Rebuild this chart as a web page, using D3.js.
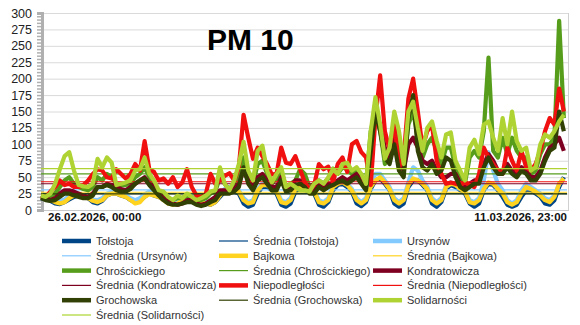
<!DOCTYPE html>
<html>
<head>
<meta charset="utf-8">
<script src="https://cdn.jsdelivr.net/npm/d3@7"></script>
<style>
  body { margin: 0; background: #fff; }
  svg { font-family: "Liberation Sans", Arial, sans-serif; }
</style>
</head>
<body>
<div id="chart"></div>
<script>
// stations and their colours
var stations = ["Tołstoja", "Ursynów", "Bajkowa", "Chrościckiego", "Kondratowicza", "Niepodległości", "Grochowska", "Solidarności"];
var colors = ["#004586", "#83caff", "#ffd320", "#579d1c", "#7e0021", "#f01010", "#314004", "#aed332"];

// averages
var averages = [25, 30.5, 27, 55, 40, 43, 24.5, 63];

var yTicks = [0, 25, 50, 75, 100, 125, 150, 175, 200, 225, 250, 275, 300];
var xTickLabels = ["26.02.2026, 00:00", "11.03.2026, 23:00"];

// hourly series sampled every 3 hours (8 values per day, 14 days)
var stepHours = 3;
var totalHours = 335;

var tolstoja = [
  18,16,14,10,9,12,16,20,
  22,20,18,12,10,14,22,25,
  25,22,20,15,12,14,20,25,
  22,20,16,12,10,12,18,22,
  20,18,15,10,8,12,20,28,
  30,28,25,10,5,8,25,35,
  35,30,25,8,5,10,28,32,
  30,28,25,8,5,12,30,38,
  40,35,28,10,6,12,32,45,
  48,40,30,10,5,10,35,45,
  45,38,30,10,5,12,32,38,
  35,30,25,10,5,10,30,40,
  38,30,20,8,5,8,20,30,
  30,25,20,10,8,15,35,50];

var ursynow = [
  22,20,18,15,14,16,22,25,
  25,22,20,16,15,18,25,28,
  28,25,22,18,15,18,24,28,
  25,22,18,14,12,14,18,24,
  22,18,15,12,12,15,25,32,
  35,32,30,18,12,15,32,40,
  40,35,30,15,12,18,35,38,
  35,32,30,15,12,18,38,45,
  45,40,32,18,12,18,40,55,
  55,45,35,18,12,18,42,65,
  60,45,35,18,12,18,38,42,
  40,35,30,15,12,18,45,88,
  60,40,30,15,10,15,30,40,
  35,30,25,18,15,22,40,48];

var bajkowa = [
  20,18,15,12,10,12,18,22,
  22,20,18,14,12,15,22,25,
  25,22,20,15,10,12,20,24,
  22,20,15,10,8,10,15,20,
  18,15,12,10,8,12,22,30,
  32,30,28,15,10,12,30,38,
  38,32,28,12,10,15,32,35,
  32,30,28,12,10,15,35,40,
  42,38,30,15,10,15,35,45,
  50,42,32,15,10,15,38,48,
  45,40,32,15,10,15,35,40,
  38,32,28,12,10,15,32,42,
  40,32,25,12,8,12,25,35,
  32,28,22,15,12,20,40,48];

var chroscickiego = [
  22,20,20,25,35,45,50,40,
  35,32,30,35,50,45,55,50,
  40,38,38,40,50,55,65,50,
  40,28,25,18,15,18,18,22,
  20,15,15,18,25,28,50,40,
  30,40,55,80,50,40,70,75,
  55,40,48,60,35,40,45,62,
  55,35,40,45,40,48,63,55,
  65,62,55,60,50,40,120,150,
  120,70,85,120,100,65,130,150,
  110,80,100,110,90,70,95,95,
  65,50,40,80,90,80,120,232,
  90,80,110,85,110,90,80,80,
  55,60,85,100,100,110,288,140];

var kondratowicza = [
  20,18,15,18,25,30,30,28,
  25,22,20,25,35,35,40,38,
  35,32,30,35,40,45,50,40,
  35,25,18,12,10,8,10,15,
  15,10,8,10,15,20,30,30,
  30,32,40,60,45,35,50,55,
  45,35,35,50,35,35,45,45,
  40,30,30,40,35,40,40,45,
  50,45,50,55,45,35,100,145,
  130,95,80,110,70,60,100,110,
  95,75,70,75,60,50,50,55,
  55,40,35,40,45,45,70,85,
  75,60,60,70,60,55,65,60,
  50,50,60,80,95,100,110,90];

var niepodleglosci = [
  22,20,28,35,45,38,40,35,
  35,38,45,55,62,60,50,48,
  62,55,48,55,70,60,105,62,
  58,45,48,40,50,35,42,62,
  35,22,20,25,55,40,45,52,
  56,45,65,145,110,78,95,82,
  70,54,55,95,72,70,82,62,
  42,32,38,70,62,66,42,70,
  80,58,100,105,88,80,38,140,
  205,120,92,135,65,80,170,200,
  150,95,120,130,75,55,40,42,
  40,38,42,38,35,55,95,80,
  70,60,55,95,75,60,90,65,
  60,70,90,120,140,130,185,150];

var grochowska = [
  18,15,14,15,20,25,25,22,
  20,18,18,22,35,35,38,35,
  30,28,28,32,40,45,48,38,
  30,22,15,10,8,8,10,12,
  12,8,6,8,12,15,25,25,
  25,28,35,65,40,30,45,50,
  40,30,30,45,28,30,38,40,
  35,25,25,35,30,35,38,42,
  45,40,45,50,40,30,90,150,
  120,80,70,100,60,50,140,175,
  90,65,60,70,55,60,80,75,
  50,35,30,35,40,40,65,80,
  65,55,55,65,55,50,60,55,
  45,45,55,75,90,95,150,120];

var solidarnosci = [
  22,20,25,40,62,82,88,60,
  38,36,35,40,78,65,80,72,
  38,40,42,45,60,62,80,55,
  45,30,28,20,15,22,18,25,
  20,15,18,22,28,30,65,40,
  30,45,70,104,60,45,90,98,
  60,42,55,65,35,40,35,30,
  30,28,40,45,40,50,62,55,
  70,72,60,65,55,40,120,172,
  130,78,95,150,120,70,150,165,
  125,90,125,135,105,80,115,118,
  75,60,45,95,107,85,130,135,
  110,90,140,100,150,105,90,95,
  60,65,100,115,110,120,135,145];

var seriesValues = [tolstoja, ursynow, bajkowa, chroscickiego, kondratowicza, niepodleglosci, grochowska, solidarnosci];

var w = 580, h = 325;
var plotLeft = 41, plotRight = 567, plotTop = 13, plotBottom = 210;

var svg = d3.select("#chart").append("svg")
    .attr("width", w)
    .attr("height", h);

var xScale = d3.scaleLinear()
    .domain([0, totalHours])
    .range([plotLeft, plotRight]);

var yScale = d3.scaleLinear()
    .domain([0, 300])
    .range([plotBottom, plotTop]);

// grid lines
svg.selectAll("line.grid")
    .data(yTicks.slice(1))
    .enter()
    .append("line")
    .attr("class", "grid")
    .attr("x1", plotLeft)
    .attr("x2", plotRight + 1)
    .attr("y1", function(d) { return yScale(d) + 0.5; })
    .attr("y2", function(d) { return yScale(d) + 0.5; })
    .attr("stroke", "#dadada")
    .attr("stroke-width", 1);

// right border and bottom axis
svg.append("line")
    .attr("x1", plotRight + 1.5).attr("x2", plotRight + 1.5)
    .attr("y1", plotTop).attr("y2", plotBottom)
    .attr("stroke", "#d0d0d0");
svg.append("line")
    .attr("x1", plotLeft).attr("x2", plotRight + 2)
    .attr("y1", plotBottom + 0.5).attr("y2", plotBottom + 0.5)
    .attr("stroke", "#c8c8c8");

// y axis: thick grey line with minor ticks
var yAxis = d3.axisLeft(yScale)
    .tickValues(d3.range(0, 301, 5))
    .tickSize(5)
    .tickFormat("");
var yAxisG = svg.append("g")
    .attr("transform", "translate(" + (plotLeft + 1) + ",0)")
    .call(yAxis);
yAxisG.select(".domain").attr("stroke", "#b0b0b0").attr("stroke-width", 3);
yAxisG.selectAll(".tick line").attr("stroke", "#b0b0b0").attr("stroke-width", 1.5);

svg.selectAll("text.ylab")
    .data(yTicks)
    .enter()
    .append("text")
    .attr("class", "ylab")
    .attr("x", 32)
    .attr("y", function(d) { return yScale(d) + 4.5; })
    .attr("text-anchor", "end")
    .attr("font-size", "12.5px")
    .attr("fill", "#222")
    .text(function(d) { return d; });

// x labels (first and last time stamp)
svg.append("text")
    .attr("x", xScale(0) + 7)
    .attr("y", 221)
    .attr("font-size", "11.5px")
    .attr("font-weight", "bold")
    .attr("fill", "#111")
    .text(xTickLabels[0]);
svg.append("text")
    .attr("x", xScale(totalHours))
    .attr("y", 221)
    .attr("text-anchor", "end")
    .attr("font-size", "11.5px")
    .attr("font-weight", "bold")
    .attr("fill", "#111")
    .text(xTickLabels[1]);

var line = d3.line()
    .x(function(d, i) { return xScale(i * stepHours); })
    .y(function(d) { return yScale(d); });

// series and their averages, in legend order
seriesValues.forEach(function(vals, k) {
    svg.append("path")
        .datum(vals)
        .attr("d", line)
        .attr("fill", "none")
        .attr("stroke", colors[k])
        .attr("stroke-width", 4.2)
        .attr("stroke-linejoin", "round");

    svg.append("line")
        .attr("x1", plotLeft)
        .attr("x2", plotRight)
        .attr("y1", yScale(averages[k]))
        .attr("y2", yScale(averages[k]))
        .attr("stroke", colors[k])
        .attr("stroke-width", 1.2);
});

// title
svg.append("text")
    .attr("x", 207)
    .attr("y", 50)
    .attr("font-size", "30px")
    .attr("font-weight", "bold")
    .attr("fill", "#000")
    .text("PM 10");

// legend
var legendItems = [];
stations.forEach(function(s, k) {
    legendItems.push({ name: s, color: colors[k], thick: true });
    legendItems.push({ name: "Średnia (" + s + ")", color: colors[k], thick: false });
});
var colX = [62, 219, 373];

var legend = svg.selectAll("g.legend")
    .data(legendItems)
    .enter()
    .append("g")
    .attr("class", "legend")
    .attr("transform", function(d, i) {
        return "translate(" + colX[i % 3] + "," + (241 + Math.floor(i / 3) * 14.8) + ")";
    });

legend.append("line")
    .attr("x1", 0)
    .attr("x2", 29)
    .attr("y1", 0)
    .attr("y2", 0)
    .attr("stroke", function(d) { return d.color; })
    .attr("stroke-width", function(d) { return d.thick ? 4.5 : 1.2; });

legend.append("text")
    .attr("x", 34)
    .attr("y", 4)
    .attr("font-size", "11px")
    .attr("fill", "#333")
    .text(function(d) { return d.name; });
</script>
</body>
</html>
